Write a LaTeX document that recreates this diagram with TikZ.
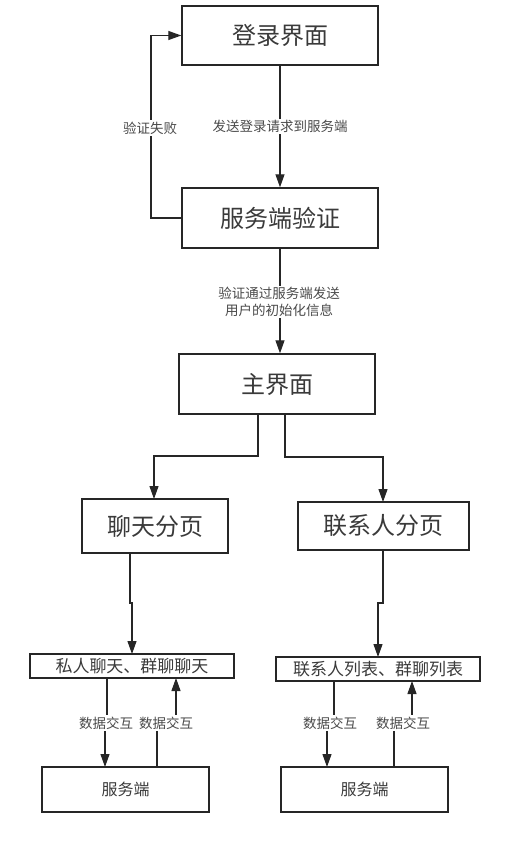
\documentclass[tikz,border=0pt]{standalone}
\usepackage{fontspec}
\setmainfont{Noto Sans CJK SC}
\usetikzlibrary{arrows.meta}
\definecolor{txt}{HTML}{3A3A3A}
\definecolor{lbl}{HTML}{4A4A4A}
\definecolor{ln}{HTML}{262626}
\tikzset{
  box/.style={draw=ln, line width=1.4pt, rectangle, inner sep=0pt, text=txt},
  big/.style={box, font=\fontsize{24}{28}\selectfont},
  mid/.style={box, font=\fontsize{17}{20}\selectfont},
  srv/.style={box, font=\fontsize{16}{19}\selectfont},
  lab/.style={fill=white, text=lbl, inner sep=1.5pt, font=\fontsize{13.5}{19}\selectfont, align=center},
  conn/.style={draw=ln, line width=1.2pt},
  arr/.style={conn, -{Triangle[length=13pt,width=9pt]}},
}
\begin{document}
\begin{tikzpicture}[x=1pt,y=-1pt]
\useasboundingbox (0,0) rectangle (526,844);
% boxes
\node[big, minimum width=196pt, minimum height=59pt] (login) at (280,35.5) {登录界面};
\node[big, minimum width=196pt, minimum height=60pt] (verify) at (280,218) {服务端验证};
\node[big, minimum width=196pt, minimum height=60pt] (main) at (277,384) {主界面};
\node[big, minimum width=146pt, minimum height=54pt] (chat) at (155,526) {聊天分页};
\node[big, minimum width=171pt, minimum height=48pt] (contact) at (383.5,526) {联系人分页};
\node[mid, minimum width=204pt, minimum height=24pt] (priv) at (132,666) {私人聊天、群聊聊天};
\node[mid, minimum width=204pt, minimum height=24pt] (list) at (378,669) {联系人列表、群聊列表};
\node[srv, minimum width=167pt, minimum height=45pt] (srvL) at (125.5,789.5) {服务端};
\node[srv, minimum width=167pt, minimum height=45pt] (srvR) at (364.5,789.5) {服务端};
% connectors
\draw[arr] (login.south) -- (verify.north) node[lab, midway] (l1) {发送登录请求到服务端};
\coordinate (fb1) at (151,218);
\coordinate (fb2) at (151,35.5);
\draw[arr] (verify.west) -- (fb1) -- (fb2) -- (login.west);
\node[lab] (l2) at (150,128) {验证失败};
\coordinate (v3) at (280,248);
\draw[arr] (v3) -- (v3 |- main.north);
\node[lab, inner sep=1pt] (l3) at (279,302) {验证通过服务端发送\\[-2pt]用户的初始化信息};
% main to chat / contact
\coordinate (m1) at (258,414);
\coordinate (m2) at (285,414);
\draw[arr] (m1) -- (258,456) -- (154,456) -- (154,499);
\draw[arr] (m2) -- (285,457) -- (383,457) -- (383,502);
% chat to priv
\coordinate (c1) at (130,553);
\draw[arr] (c1) -- (130,603) -- (132,603) -- (132,654);
\coordinate (k1) at (383,550);
\draw[arr] (k1) -- (383,603) -- (378,603) -- (378,657);
% data exchange left
\coordinate (p1) at (107,678);
\draw[arr] (p1) -- (107,723) -- (105,723) -- (105,767);
\node[lab] (d1) at (106,723) {数据交互};
\coordinate (s1) at (157,767);
\draw[arr] (s1) -- (157,723) -- (176,723) -- (176,678);
\node[lab] (d2) at (166,723) {数据交互};
% data exchange right
\coordinate (p2) at (334,681);
\draw[arr] (p2) -- (334,723) -- (327,723) -- (327,767);
\node[lab] (d3) at (330,723) {数据交互};
\coordinate (s2) at (394,767);
\draw[arr] (s2) -- (394,723) -- (412,723) -- (412,681);
\node[lab] (d4) at (403,723) {数据交互};
\end{tikzpicture}
\end{document}
